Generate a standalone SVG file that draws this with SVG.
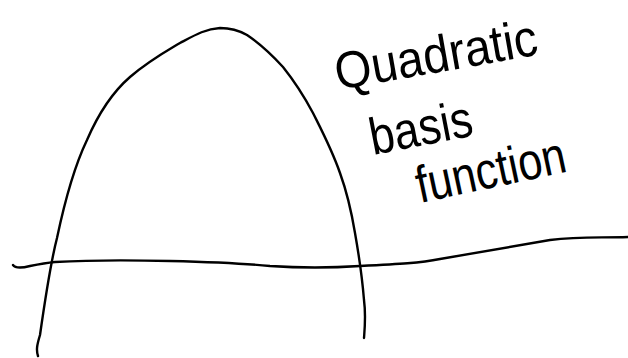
<svg xmlns="http://www.w3.org/2000/svg" width="628" height="358" viewBox="0 0 628 358">
<style>
.ink{fill:none;stroke:#000;stroke-width:2.4;stroke-linecap:round;stroke-linejoin:round}
.lbl{font-family:"Liberation Sans",Arial,sans-serif;font-size:52px;fill:#000}
</style>
<rect width="628" height="358" fill="#fff"/>
<g id="axis">
<path class="ink" d="M13,265 C15,268 22,268 30,266 C40,264 45,263 55,262 C90,260 130,260 170,261 C210,262 240,263 270,266 C300,268 330,268 360,266 C400,264 420,263 440,259 C480,252 520,245 550,240 C580,236 600,238 628,237"/>
</g>
<g id="curve">
<path class="ink" d="M38,356 C36,350 37,345 40,335 C45,300 50,265 57,238 C65,200 75,165 87,140 C100,110 115,90 130,77 C150,60 165,52 180,43 C195,35 205,29 220,28 C233,28 240,31 247,35 C262,45 272,55 283,67 C295,82 305,98 313,113 C323,133 332,150 340,173 C348,195 352,215 355,233 C358,250 362,275 364,300 C366,315 365,325 364,338"/>
</g>
<g id="label">
<text class="lbl" transform="translate(338,90) rotate(-10)" textLength="205" lengthAdjust="spacingAndGlyphs">Quadratic</text>
<text class="lbl" transform="translate(373,155) rotate(-11)" textLength="104" lengthAdjust="spacingAndGlyphs">basis</text>
<text class="lbl" transform="translate(420,203) rotate(-12)" textLength="152" lengthAdjust="spacingAndGlyphs">function</text>
</g>
</svg>
